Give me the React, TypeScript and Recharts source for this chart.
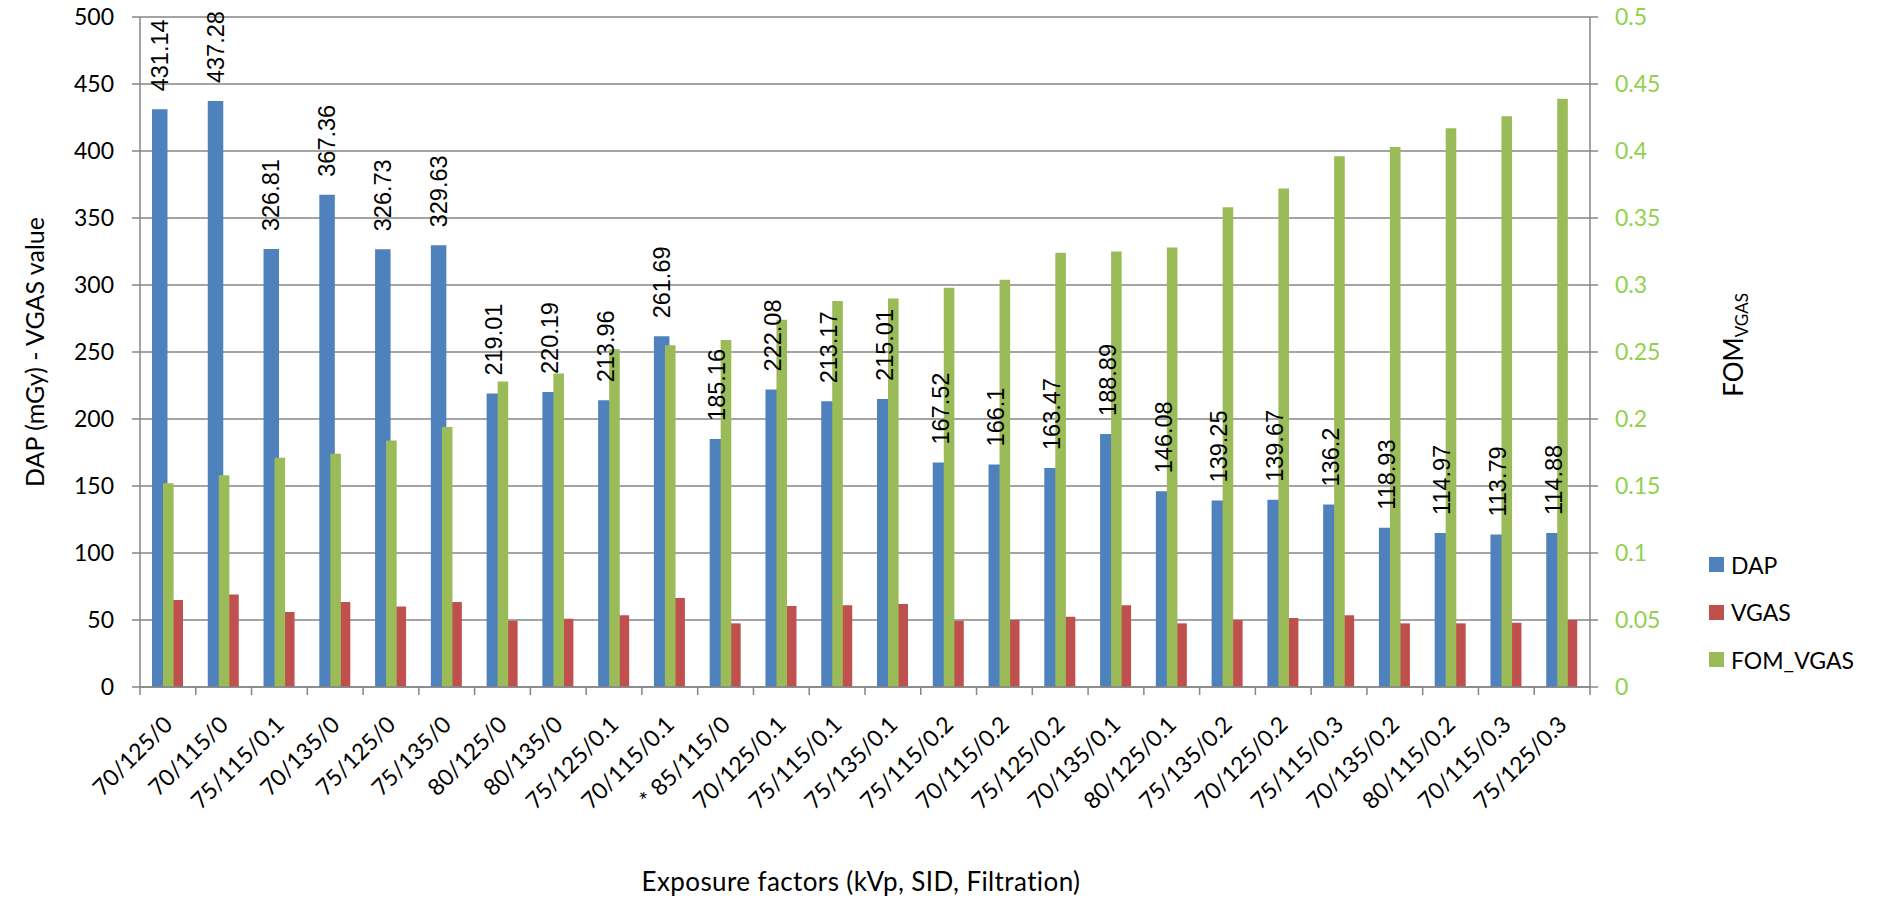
import React from "react";
import {
  ComposedChart, Bar, XAxis, YAxis, CartesianGrid, Legend, LabelList, Label
} from "recharts";

const categories = [
  "70/125/0", "70/115/0", "75/115/0.1", "70/135/0", "75/125/0", "75/135/0",
  "80/125/0", "80/135/0", "75/125/0.1", "70/115/0.1", "* 85/115/0", "70/125/0.1",
  "75/115/0.1", "75/135/0.1", "75/115/0.2", "70/115/0.2", "75/125/0.2", "70/135/0.1",
  "80/125/0.1", "75/135/0.2", "70/125/0.2", "75/115/0.3", "70/135/0.2", "80/115/0.2",
  "70/115/0.3", "75/125/0.3",
];

const dapValues = [
  431.14, 437.28, 326.81, 367.36, 326.73, 329.63, 219.01, 220.19, 213.96, 261.69,
  185.16, 222.08, 213.17, 215.01, 167.52, 166.1, 163.47, 188.89, 146.08, 139.25,
  139.67, 136.2, 118.93, 114.97, 113.79, 114.88,
];

const vgasValues = [
  65, 69, 56, 63.5, 60, 63.5, 49.5, 51, 53.5, 66.5,
  47.5, 60.5, 61, 62, 49.5, 50, 52.5, 61, 47.5, 50,
  51.5, 53.5, 47.5, 47.5, 48, 50,
];

const fomValues = [
  0.152, 0.158, 0.171, 0.174, 0.184, 0.194, 0.228, 0.234, 0.252, 0.255,
  0.259, 0.274, 0.288, 0.29, 0.298, 0.304, 0.324, 0.325, 0.328, 0.358,
  0.372, 0.396, 0.403, 0.417, 0.426, 0.439,
];

const leftTicks = [0, 50, 100, 150, 200, 250, 300, 350, 400, 450, 500];
const rightTicks = [0, 0.05, 0.1, 0.15, 0.2, 0.25, 0.3, 0.35, 0.4, 0.45, 0.5];

const seriesNames = { dap: "DAP", vgas: "VGAS", fom: "FOM_VGAS" };

const BLUE = "#4F81BD";
const RED = "#C0504D";
const GREEN = "#9BBB59";
const GREEN_TEXT = "#92D050";
const AXIS = "#868686";
const FONT = "Lato, 'Open Sans', sans-serif";

const data = categories.map((label, i) => ({
  label,
  dap: dapValues[i],
  vgas: vgasValues[i],
  fom: fomValues[i],
}));

const legendItems = [
  { name: seriesNames.dap, color: BLUE },
  { name: seriesNames.vgas, color: RED },
  { name: seriesNames.fom, color: GREEN },
];

// tick marks sit on the category boundaries, labels slanted at 45deg
function CategoryTick(props: any) {
  const { x, y, payload, index } = props;
  const half = payload?.offset || 27.9;
  const tx = x + 6;
  const ty = y + 39;
  return (
    <g>
      <line x1={x - half} x2={x - half} y1={y} y2={y + 8} stroke={AXIS} strokeWidth={1.5} />
      {index === categories.length - 1 && (
        <line x1={x + half} x2={x + half} y1={y} y2={y + 8} stroke={AXIS} strokeWidth={1.5} />
      )}
      <text
        x={tx}
        y={ty}
        transform={`rotate(-45, ${tx}, ${ty})`}
        textAnchor="end"
        fontFamily={FONT}
        fontSize={23}
        fill="#000"
      >
        {payload.value}
      </text>
    </g>
  );
}

function DapLabel(props: any) {
  const { x, y, width, value } = props;
  const cx = Number(x) + Number(width) / 2;
  const ty = Number(y) - 18;
  return (
    <text
      x={cx}
      y={ty}
      transform={`rotate(-90, ${cx}, ${ty})`}
      textAnchor="start"
      dominantBaseline="central"
      fontFamily="'Liberation Sans', Arial, sans-serif"
      fontSize={23.5}
      fill="#000"
    >
      {value}
    </text>
  );
}

function LegendBox() {
  return (
    <div style={{ fontFamily: FONT, fontSize: 23, color: "#000" }}>
      {legendItems.map((item) => (
        <div key={item.name} style={{ height: 47.5, display: "flex", alignItems: "center" }}>
          <span style={{ width: 15, height: 15, background: item.color, marginRight: 7, display: "inline-block" }} />
          <span>{item.name}</span>
        </div>
      ))}
    </div>
  );
}

export default function App() {
  return (
    <div style={{ position: "absolute", left: 0, top: 0, background: "#fff" }}>
      <ComposedChart
        width={1879}
        height={899}
        data={data}
        margin={{ top: 17, right: 0, bottom: 0, left: 0 }}
        barGap={0}
      >
        <CartesianGrid
          vertical={false}
          stroke={AXIS}
          strokeWidth={1.5}
          xAxisId="main"
          yAxisId="left"
        />
        <XAxis
          xAxisId="main"
          dataKey="label"
          height={212}
          interval={0}
          tickLine={false}
          tickSize={0}
          tickMargin={0}
          axisLine={{ stroke: AXIS, strokeWidth: 1.5 }}
          tick={<CategoryTick />}
        >
          <Label
            content={({ viewBox }: any) => (
              <text
                x={viewBox.x + viewBox.width / 2 - 4}
                y={891}
                textAnchor="middle"
                fontFamily={FONT}
                fontSize={26}
                letterSpacing={0.4}
                fill="#000"
              >
                Exposure factors (kVp, SID, Filtration)
              </text>
            )}
          />
        </XAxis>
        <XAxis xAxisId="over" dataKey="label" hide />
        <YAxis
          yAxisId="left"
          width={140}
          domain={[0, 500]}
          ticks={leftTicks}
          interval={0}
          tickSize={8}
          tickMargin={18}
          tickLine={{ stroke: AXIS, strokeWidth: 1.5 }}
          axisLine={{ stroke: AXIS, strokeWidth: 1.5 }}
          tick={{ fill: "#000", fontSize: 23, fontFamily: FONT }}
        >
          <Label
            content={({ viewBox }: any) => {
              const cx = 34;
              const cy = viewBox.y + viewBox.height / 2;
              return (
                <text
                  x={cx}
                  y={cy}
                  transform={`rotate(-90, ${cx}, ${cy})`}
                  textAnchor="middle"
                  dominantBaseline="central"
                  fontFamily={FONT}
                  fontSize={25}
                  fill="#000"
                >
                  DAP (mGy) - VGAS value
                </text>
              );
            }}
          />
        </YAxis>
        <YAxis
          yAxisId="right"
          orientation="right"
          width={289}
          domain={[0, 0.5]}
          ticks={rightTicks}
          interval={0}
          tickSize={8}
          tickMargin={17}
          tickFormatter={(v) => String(Number(Number(v).toFixed(2)))}
          tickLine={{ stroke: AXIS, strokeWidth: 1.5 }}
          axisLine={{ stroke: AXIS, strokeWidth: 1.5 }}
          tick={{ fill: GREEN_TEXT, fontSize: 23, fontFamily: FONT, textAnchor: "start" }}
        >
          <Label
            content={({ viewBox }: any) => {
              const cx = viewBox.x + 143;
              const cy = 345;
              return (
                <text
                  x={cx}
                  y={cy}
                  transform={`rotate(-90, ${cx}, ${cy})`}
                  textAnchor="middle"
                  dominantBaseline="central"
                  fontFamily={FONT}
                  fontSize={26}
                  fill="#000"
                >
                  FOM
                  <tspan fontSize={17} dy={8}>VGAS</tspan>
                </text>
              );
            }}
          />
        </YAxis>
        <Legend
          layout="horizontal"
          verticalAlign="middle"
          align="center"
          wrapperStyle={{ left: 1709, top: 541, width: 170, height: 143 }}
          content={<LegendBox />}
        />
        <Bar
          xAxisId="main"
          yAxisId="left"
          dataKey="dap"
          name={seriesNames.dap}
          fill={BLUE}
          barSize={15.5}
          isAnimationActive={false}
        >
          <LabelList dataKey="dap" content={<DapLabel />} />
        </Bar>
        <Bar
          xAxisId="main"
          yAxisId="left"
          dataKey="vgas"
          name={seriesNames.vgas}
          fill={RED}
          barSize={15.5}
          isAnimationActive={false}
        />
        <Bar
          xAxisId="over"
          yAxisId="right"
          dataKey="fom"
          name={seriesNames.fom}
          fill={GREEN}
          barSize={10.6}
          isAnimationActive={false}
        />
      </ComposedChart>
    </div>
  );
}
